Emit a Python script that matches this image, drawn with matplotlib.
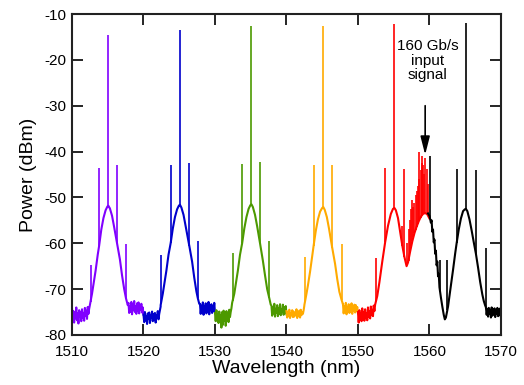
import numpy as np
import matplotlib.pyplot as plt

plt.rcParams['font.family'] = ['Liberation Sans', 'DejaVu Sans']
plt.rcParams['axes.unicode_minus'] = False

# --- spectra (wavelength nm, power dBm) ---

# noise floors: (start nm, stop nm, values)
purple_floor_l = (1510.0, 1512.5, [-74.2, -76.0, -74.8, -77.3, -75.1, -76.4, -74.0, -76.8, -75.3, -77.5, -74.6, -76.1, -75.0,
                                   -77.0, -74.4, -76.3, -75.2, -76.9, -74.1, -75.8, -74.7, -76.5, -73.9, -75.4, -74.3, -73.5])
purple_floor_r = (1517.9, 1520.0, [-73.0, -75.2, -73.8, -74.9, -72.8, -75.5, -73.4, -74.6, -72.6, -75.0, -73.7, -75.4, -73.1,
                                   -74.8, -72.9, -75.3, -73.6, -74.5, -73.2, -75.1, -74.0, -75.6])
blue_floor_l = (1520.0, 1522.4, [-75.6, -77.2, -75.0, -76.8, -75.9, -77.6, -75.3, -76.5, -75.1, -77.4, -75.8, -76.2, -74.9,
                                 -77.0, -75.5, -76.7, -75.2, -77.3, -75.7, -76.0, -74.8, -76.6, -75.4, -74.6, -73.8])
blue_floor_r = (1527.9, 1530.0, [-73.2, -75.4, -73.6, -75.0, -72.9, -75.6, -73.8, -74.7, -73.1, -75.3, -73.5, -74.9, -72.8,
                                 -75.5, -73.9, -74.6, -73.3, -75.2, -73.7, -74.8, -73.0, -75.1])
green_floor_l = (1530.0, 1532.4, [-75.2, -77.0, -74.6, -76.8, -75.5, -77.4, -74.9, -76.3, -75.8, -78.4, -75.0, -77.8, -74.7,
                                  -76.9, -75.3, -78.0, -74.8, -76.4, -75.6, -77.2, -74.5, -76.1, -75.0, -74.2, -73.0])
green_floor_r = (1537.9, 1540.0, [-73.6, -75.8, -74.0, -75.3, -73.2, -76.0, -74.3, -75.1, -73.5, -75.9, -74.1, -75.4, -73.3,
                                  -75.7, -74.4, -75.0, -73.4, -75.6, -73.9, -75.2, -73.7, -75.5])
orange_floor_l = (1540.0, 1542.5, [-74.8, -76.2, -75.0, -75.9, -74.5, -76.3, -75.2, -75.7, -74.6, -76.1, -74.9, -76.0, -75.3,
                                   -75.6, -74.4, -76.3, -75.1, -75.8, -74.7, -76.2, -74.5, -75.7, -75.0, -75.4, -74.6, -73.6])
orange_floor_r = (1547.9, 1550.0, [-73.2, -75.3, -73.7, -74.9, -73.0, -75.5, -73.9, -74.6, -73.3, -75.2, -73.6, -75.0, -73.1,
                                   -75.4, -73.8, -74.7, -73.4, -75.1, -73.5, -74.8, -73.9, -75.3])
red_floor_l = (1550.0, 1552.4, [-75.0, -77.3, -74.6, -76.7, -75.4, -77.0, -74.2, -76.5, -75.1, -76.9, -74.4, -76.2, -75.3,
                                -76.8, -74.0, -76.0, -74.9, -76.4, -73.8, -75.7, -74.5, -75.9, -73.6, -74.8, -73.4])
black_floor_r = (1567.9, 1570.0, [-74.0, -75.6, -74.3, -76.0, -74.1, -75.4, -74.6, -76.2, -74.0, -75.8, -74.4, -75.5, -74.2,
                                  -76.1, -74.7, -75.3, -74.1, -75.9, -74.5, -75.7, -74.2, -76.0])

# broad envelopes
purple_env = [(1512.5, -73.5), (1512.8, -71), (1513.0, -69), (1513.3, -66), (1513.6, -62.5), (1513.8, -60.5),
              (1514.1, -57), (1514.4, -54.5), (1514.7, -52.8), (1514.95, -52.0), (1515.08, -51.8), (1515.3, -52.4),
              (1515.6, -54), (1515.9, -56.5), (1516.3, -60), (1516.7, -63.5), (1517.0, -67), (1517.3, -70),
              (1517.55, -72), (1517.8, -73.5)]
blue_env = [(1522.4, -73.5), (1522.7, -71), (1522.9, -69), (1523.2, -66), (1523.5, -62.5), (1523.8, -60),
            (1524.1, -56.8), (1524.4, -54.3), (1524.7, -52.6), (1524.95, -51.8), (1525.1, -51.6), (1525.3, -52.2),
            (1525.6, -53.8), (1525.9, -56.3), (1526.4, -60.5), (1526.8, -64), (1527.1, -67.5), (1527.4, -70.5),
            (1527.6, -72), (1527.8, -73.2)]
green_env = [(1532.4, -73), (1532.7, -71), (1532.9, -69), (1533.2, -66), (1533.5, -62.5), (1533.8, -60),
             (1534.1, -56.8), (1534.4, -54.3), (1534.7, -52.5), (1534.95, -51.7), (1535.1, -51.5), (1535.3, -52.1),
             (1535.6, -53.8), (1535.9, -56.3), (1536.3, -60), (1536.7, -63.8), (1537.0, -67), (1537.3, -70),
             (1537.6, -72), (1537.8, -73.4)]
orange_env = [(1542.5, -73.5), (1542.8, -71), (1543.0, -69.2), (1543.3, -66.2), (1543.6, -62.8), (1543.8, -60.5),
              (1544.1, -57.3), (1544.4, -54.8), (1544.7, -53.1), (1545.0, -52.3), (1545.15, -52.1), (1545.35, -52.7),
              (1545.65, -54.3), (1545.95, -56.8), (1546.4, -61), (1546.8, -64.5), (1547.1, -67.8), (1547.4, -70.6),
              (1547.7, -72.3), (1547.9, -73.3)]
red_env = [(1552.4, -73.4), (1552.7, -71.5), (1553.0, -68.5), (1553.4, -64), (1553.8, -59.8), (1554.2, -56.2),
           (1554.6, -53.6), (1554.9, -52.5), (1555.1, -52.3), (1555.3, -52.8), (1555.6, -54.5), (1555.9, -57.5),
           (1556.2, -60.5), (1556.5, -63), (1556.8, -65), (1557.0, -64.2), (1557.3, -61.8), (1557.6, -59.6),
           (1557.9, -57.8), (1558.2, -56.4), (1558.5, -55.2), (1558.8, -54.2), (1559.1, -53.6), (1559.4, -53.4),
           (1559.7, -53.7), (1560.0, -54.6)]
black_env = [(1559.8, -53.5), (1560.0, -54), (1560.2, -55.5), (1560.3, -55.0), (1560.4, -57.5), (1560.5, -57.0),
             (1560.6, -59.8), (1560.7, -59.2), (1560.8, -62.3), (1560.9, -61.6), (1561.0, -64.8), (1561.1, -64.0),
             (1561.2, -67.2), (1561.3, -66.6), (1561.4, -69.6), (1561.6, -71.8), (1561.8, -73.8), (1562.0, -75.6),
             (1562.15, -76.6), (1562.3, -76.2), (1562.45, -75), (1562.6, -73.8), (1562.8, -71.5), (1563.0, -69.2),
             (1563.3, -65.8), (1563.6, -62.2), (1563.8, -60), (1564.1, -57), (1564.4, -54.6), (1564.7, -53),
             (1564.95, -52.6), (1565.1, -52.5), (1565.3, -53), (1565.6, -54.8), (1565.9, -57.2), (1566.2, -59.8),
             (1566.5, -62.3), (1566.8, -65.3), (1567.1, -68.5), (1567.4, -71.2), (1567.6, -72.6), (1567.8, -73.6)]

# narrow lines: (wavelength, base dBm, top dBm)
purple_spk = [(1512.6, -72.8, -64.7), (1513.8, -60.5, -43.6), (1515.08, -51.8, -14.6), (1516.3, -60, -42.9),
              (1517.55, -72, -60.1)]
blue_spk = [(1522.5, -73, -62.5), (1523.8, -60, -42.9), (1525.1, -51.6, -13.5), (1526.4, -60.5, -42.5),
            (1527.6, -72, -59.4)]
green_spk = [(1532.5, -72.5, -62.1), (1533.8, -60, -42.7), (1535.1, -51.5, -12.6), (1536.3, -60, -42.3),
             (1537.6, -72, -59.5)]
orange_spk = [(1542.6, -72.8, -62.9), (1543.8, -60.5, -43.0), (1545.15, -52.1, -12.6), (1546.4, -61, -43.0),
              (1547.7, -72.3, -60.1)]
red_spk = [(1552.5, -72.5, -63.2), (1553.8, -59.8, -43.6), (1555.1, -52.3, -12.2), (1556.2, -60.5, -56.3),
           (1556.5, -63, -43.8), (1556.9, -64.8, -60), (1557.1, -63.8, -57), (1557.3, -61.8, -55),
           (1557.45, -60.6, -52.5), (1557.6, -59.6, -50.5), (1557.75, -58.7, -52), (1557.9, -57.8, -51.3),
           (1558.05, -57.1, -49.5), (1558.2, -56.4, -48.7), (1558.35, -55.8, -47.5), (1558.5, -55.2, -46),
           (1558.6, -54.9, -40), (1558.75, -54.4, -44), (1558.9, -54, -41), (1559.0, -53.8, -42.5),
           (1559.1, -53.6, -43), (1559.25, -53.5, -45), (1559.4, -53.4, -41.5), (1559.6, -53.6, -43.9),
           (1559.8, -54, -47)]
black_spk = [(1560.1, -54.5, -40.9), (1561.5, -70.7, -63.6), (1562.5, -74.6, -63.6), (1563.8, -60, -43.8),
             (1565.1, -52.5, -12.0), (1566.5, -62.3, -44), (1567.9, -73.8, -61)]

channels = [
    ('#8000ff', purple_floor_l, purple_env, purple_floor_r, purple_spk),
    ('#0000cc', blue_floor_l, blue_env, blue_floor_r, blue_spk),
    ('#4c9900', green_floor_l, green_env, green_floor_r, green_spk),
    ('#ffaa00', orange_floor_l, orange_env, orange_floor_r, orange_spk),
    ('#ff0000', red_floor_l, red_env, None, red_spk),
    ('#000000', None, black_env, black_floor_r, black_spk),
]

fig, ax = plt.subplots(figsize=(5.24, 3.85), dpi=100)
fig.subplots_adjust(left=0.1374, right=0.956, top=0.9636, bottom=0.13)

for col, fl, env, fr, spk in channels:
    xs, ys = [], []
    if fl is not None:
        xs.append(np.linspace(fl[0], fl[1], len(fl[2])))
        ys.append(np.array(fl[2]))
    e = np.array(env)
    xs.append(e[:, 0])
    ys.append(e[:, 1])
    if fr is not None:
        xs.append(np.linspace(fr[0], fr[1], len(fr[2])))
        ys.append(np.array(fr[2]))
    ax.plot(np.concatenate(xs), np.concatenate(ys), color=col, lw=1.5)
    s = np.array(spk)
    ax.vlines(s[:, 0], s[:, 1], s[:, 2], color=col, lw=1.2)

ax.text(1559.75, -20.2, '160 Gb/s\ninput\nsignal', ha='center', va='center', fontsize=11, linespacing=1.05)
ax.annotate('', xy=(1559.4, -40.7), xytext=(1559.4, -30),
            arrowprops=dict(arrowstyle='-|>,head_length=1.1,head_width=0.28', color='k', lw=1.2,
                            mutation_scale=10, shrinkA=0, shrinkB=0))

ax.set_xlim(1510, 1570)
ax.set_ylim(-80, -10)
ax.set_xticks(np.arange(1510, 1571, 10))
ax.set_yticks(np.arange(-80, -9, 10))
ax.tick_params(direction='in', length=8, width=1.2, top=True, right=True, labelsize=11)
ax.tick_params(axis='x', pad=7)
ax.tick_params(axis='y', pad=4)
for sp in ax.spines.values():
    sp.set_linewidth(1.5)
    sp.set_color('#222222')
ax.set_xlabel('Wavelength (nm)', fontsize=14, labelpad=1)
ax.set_ylabel('Power (dBm)', fontsize=14, labelpad=5)

plt.savefig('out.png', dpi=100)
